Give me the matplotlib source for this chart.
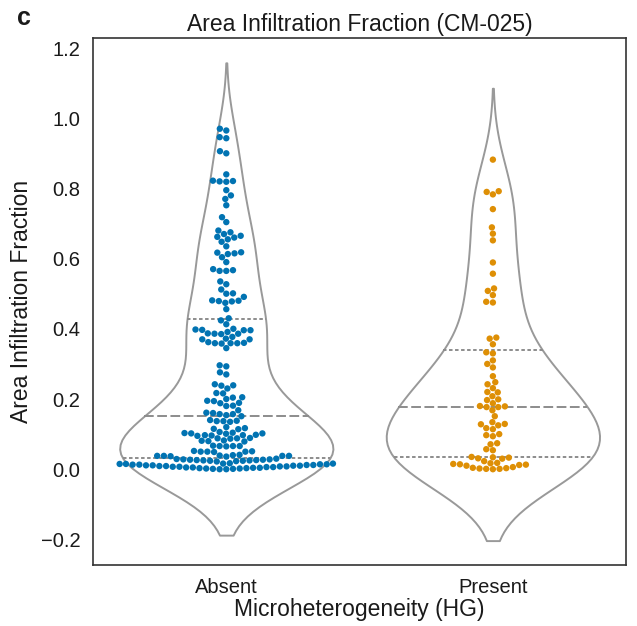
import matplotlib
matplotlib.use('Agg')

import matplotlib.pyplot as plt
import seaborn as sns
import pandas as pd

categories = ["Absent", "Present"]
colors = {"Absent": "#0173b2", "Present": "#de8f05"}

absent = [
    0.970, 0.965, 0.946, 0.943, 0.906, 0.900, 0.840, 0.822, 0.820, 0.821, 0.819,
    0.795, 0.780, 0.770, 0.752, 0.718, 0.704,
    0.680, 0.675, 0.670, 0.665, 0.662, 0.660, 0.655, 0.648, 0.635,
    0.618, 0.615, 0.613, 0.617, 0.604, 0.590,
    0.570, 0.567, 0.565, 0.565,
    0.535, 0.527, 0.512, 0.500, 0.501, 0.491, 0.481, 0.479, 0.474, 0.478,
    0.480, 0.456, 0.430, 0.424, 0.413,
    0.400, 0.396, 0.396, 0.397, 0.398, 0.391, 0.386, 0.377, 0.386, 0.385,
    0.387, 0.372, 0.370, 0.362, 0.359, 0.359, 0.360, 0.358, 0.359, 0.370, 0.345,
    0.296, 0.293, 0.276, 0.270,
    0.242, 0.230, 0.239, 0.238, 0.216, 0.217, 0.205, 0.194, 0.195, 0.200,
    0.204, 0.188, 0.189, 0.180, 0.181, 0.168,
    0.160, 0.157, 0.157, 0.151, 0.154, 0.161,
    0.137, 0.137, 0.135, 0.138, 0.140,
    0.114, 0.115, 0.117, 0.120,
    0.103, 0.102, 0.095, 0.097, 0.102, 0.106, 0.097, 0.098, 0.096, 0.101, 0.104,
    0.088, 0.089, 0.087, 0.088,
    0.080, 0.079, 0.081, 0.082,
    0.066, 0.066, 0.067, 0.065, 0.066,
    0.050, 0.051, 0.049, 0.050, 0.052, 0.050,
    0.038, 0.037, 0.038, 0.039, 0.038, 0.036, 0.040, 0.038, 0.041,
    0.022, 0.023, 0.024, 0.024, 0.025, 0.025, 0.026, 0.026, 0.027, 0.027,
    0.028, 0.028, 0.029, 0.030,
    0.000, 0.000, 0.001, 0.001, 0.002, 0.002, 0.003, 0.003, 0.004, 0.004,
    0.005, 0.005, 0.006, 0.006, 0.007, 0.007, 0.008, 0.008, 0.009, 0.009,
    0.010, 0.010, 0.011, 0.011, 0.012, 0.012, 0.013, 0.013, 0.014, 0.014,
    0.015, 0.015, 0.016, 0.016, 0.017,
]

present = [
    0.882, 0.790, 0.783, 0.792, 0.741, 0.689, 0.671, 0.652, 0.589, 0.557,
    0.508, 0.515, 0.496, 0.477, 0.475,
    0.375, 0.372, 0.356, 0.333, 0.330,
    0.310, 0.300, 0.290, 0.265,
    0.248, 0.242, 0.231, 0.219, 0.220, 0.208, 0.197, 0.199,
    0.179, 0.177, 0.168, 0.177, 0.180, 0.188,
    0.151,
    0.134, 0.128, 0.117, 0.114, 0.125, 0.129,
    0.097, 0.094, 0.100,
    0.071, 0.074, 0.057, 0.054,
    0.034, 0.035, 0.031, 0.033, 0.030,
    0.017, 0.014, 0.015, 0.013, 0.018, 0.023,
    0.010, 0.004, 0.002, 0.001, 0.000, 0.001, 0.003, 0.006, 0.012,
]

df = pd.DataFrame({
    "HG": ["Absent"] * len(absent) + ["Present"] * len(present),
    "frac": absent + present,
})

sns.set_style("white")
plt.rcParams['font.family'] = ['Liberation Sans', 'DejaVu Sans']
plt.rcParams['text.color'] = '#1a1a1a'
plt.rcParams['axes.labelcolor'] = '#1a1a1a'
plt.rcParams['xtick.color'] = '#1a1a1a'
plt.rcParams['ytick.color'] = '#1a1a1a'

fig, ax = plt.subplots(figsize=(6.37, 6.26), dpi=100)
fig.subplots_adjust(left=0.146, right=0.983, top=0.939, bottom=0.0974)

sns.violinplot(data=df, x="HG", y="frac", order=categories, inner="quart",
               color="white", linecolor="#999999", linewidth=1.4,
               density_norm="width", ax=ax)

# quartile lines: short dashes, median: long dashes
for i, ln in enumerate(ax.lines):
    ln.set_color("#8c8c8c")
    ln.set_linewidth(1.4)
    if i % 3 == 1:
        ln.set_dashes((5.0, 1.8))
    else:
        ln.set_dashes((1.8, 1.3))

sns.swarmplot(data=df, x="HG", y="frac", order=categories, hue="HG",
              palette=colors, size=4.6, legend=False, ax=ax)

ax.set_ylim(-0.273, 1.228)
ax.set_yticks([-0.2, 0.0, 0.2, 0.4, 0.6, 0.8, 1.0, 1.2])
ax.tick_params(length=0, pad=9, labelsize=14.5)
ax.set_title("Area Infiltration Fraction (CM-025)", fontsize=16.5, pad=5)
ax.set_xlabel("Microheterogeneity (HG)", fontsize=16.5, labelpad=1)
ax.set_ylabel("Area Infiltration Fraction", fontsize=16.5, labelpad=6)
for s in ax.spines.values():
    s.set_color("#333333")
    s.set_linewidth(1.2)

fig.text(0.026, 0.96, "c", fontsize=18, fontweight="bold")

plt.savefig("out.png", dpi=100)
